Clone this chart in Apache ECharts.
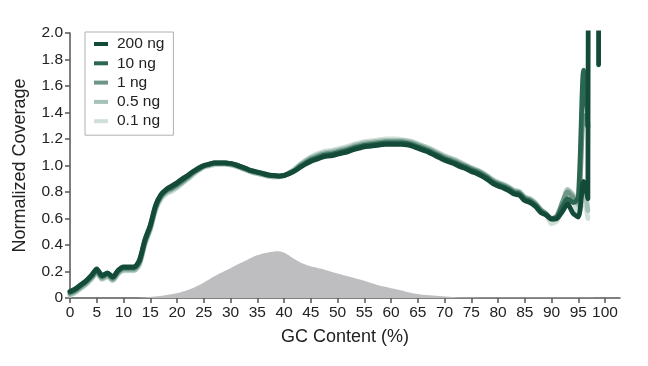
<!DOCTYPE html>
<html><head><meta charset="utf-8">
<script src="https://cdn.jsdelivr.net/npm/echarts@6/dist/echarts.min.js"></script>
<style>html,body{margin:0;padding:0;background:#fff}#c{width:648px;height:366px}</style>
</head><body><div id="c"></div>
<script>
// GC content grid (%)
const gcMain = [];
for (let i = 0; i <= 96; i++) gcMain.push(i);

const seriesNames = ['200 ng', '10 ng', '1 ng', '0.5 ng', '0.1 ng'];

const cov200 = [
  0.05,0.07,0.10,0.13,0.17,0.22,0.17,0.19,0.16,0.21,
  0.235,0.235,0.235,0.29,0.44,0.55,0.70,0.78,0.82,0.845,
  0.87,0.90,0.925,0.955,0.98,1.00,1.01,1.02,1.02,1.02,
  1.015,1.005,0.99,0.975,0.96,0.95,0.94,0.93,0.925,0.92,
  0.925,0.94,0.96,0.985,1.01,1.03,1.045,1.06,1.07,1.075,
  1.085,1.095,1.105,1.12,1.13,1.14,1.145,1.15,1.155,1.16,
  1.16,1.16,1.16,1.155,1.145,1.13,1.115,1.10,1.08,1.06,
  1.04,1.025,1.01,0.99,0.975,0.955,0.94,0.92,0.895,0.865,
  0.845,0.83,0.81,0.785,0.775,0.735,0.72,0.69,0.645,0.625,
  0.595,0.60,0.65,0.71,0.64,0.61,0.88
];
const tail200 = [[96.8, 0.75], [97.2, 8], [98.6, 8], [98.8, 1.76]];

const cov10 = [
  0.045,0.065,0.095,0.125,0.165,0.21,0.165,0.185,0.155,0.205,
  0.23,0.23,0.23,0.28,0.43,0.54,0.69,0.775,0.815,0.835,
  0.86,0.89,0.92,0.95,0.975,0.995,1.01,1.02,1.02,1.02,
  1.015,1.005,0.99,0.975,0.96,0.95,0.94,0.93,0.925,0.92,
  0.925,0.94,0.96,0.99,1.015,1.04,1.055,1.07,1.08,1.085,
  1.095,1.105,1.115,1.13,1.14,1.15,1.155,1.16,1.165,1.17,
  1.17,1.17,1.17,1.165,1.155,1.14,1.125,1.11,1.09,1.07,
  1.05,1.035,1.02,1.0,0.985,0.965,0.95,0.93,0.905,0.875,
  0.855,0.84,0.82,0.795,0.785,0.745,0.73,0.70,0.655,0.63,
  0.60,0.61,0.69,0.75,0.72,0.76,1.72
];
const tail10 = [[96.8, 1.30]];

const cov1 = [
  0.035,0.055,0.085,0.115,0.155,0.20,0.155,0.175,0.145,0.195,
  0.22,0.22,0.22,0.27,0.42,0.53,0.68,0.765,0.805,0.825,
  0.85,0.88,0.91,0.945,0.97,0.995,1.005,1.015,1.015,1.015,
  1.01,1.0,0.985,0.97,0.955,0.945,0.935,0.925,0.92,0.92,
  0.925,0.945,0.965,1.0,1.025,1.05,1.065,1.08,1.09,1.095,
  1.105,1.115,1.125,1.14,1.15,1.16,1.165,1.17,1.175,1.18,
  1.18,1.18,1.18,1.175,1.165,1.15,1.135,1.12,1.10,1.08,
  1.06,1.045,1.03,1.01,0.995,0.975,0.96,0.94,0.915,0.885,
  0.865,0.85,0.83,0.805,0.795,0.755,0.74,0.71,0.665,0.635,
  0.60,0.62,0.72,0.80,0.76,0.72,1.38
];
const tail1 = [[96.8, 1.29]];

const cov05 = [
  0.025,0.045,0.075,0.105,0.145,0.19,0.145,0.165,0.135,0.185,
  0.21,0.21,0.21,0.26,0.41,0.52,0.67,0.755,0.795,0.815,
  0.84,0.87,0.90,0.935,0.965,0.99,1.0,1.01,1.01,1.01,
  1.005,0.995,0.98,0.965,0.95,0.94,0.93,0.92,0.915,0.915,
  0.92,0.945,0.97,1.005,1.035,1.06,1.075,1.09,1.10,1.105,
  1.115,1.125,1.135,1.15,1.16,1.17,1.175,1.18,1.185,1.19,
  1.19,1.19,1.19,1.185,1.175,1.16,1.145,1.13,1.11,1.09,
  1.07,1.055,1.04,1.02,1.0,0.98,0.965,0.945,0.92,0.89,
  0.87,0.855,0.835,0.81,0.80,0.76,0.745,0.715,0.665,0.635,
  0.59,0.60,0.70,0.82,0.78,0.70,0.85
];
const tail05 = [[96.8, 0.66]];

const cov01 = [
  0.02,0.04,0.07,0.10,0.14,0.185,0.14,0.16,0.13,0.18,
  0.205,0.205,0.205,0.25,0.40,0.51,0.66,0.745,0.785,0.805,
  0.83,0.865,0.895,0.93,0.96,0.985,0.995,1.005,1.01,1.01,
  1.005,0.995,0.98,0.965,0.95,0.94,0.93,0.92,0.915,0.915,
  0.92,0.945,0.975,1.01,1.04,1.065,1.085,1.10,1.11,1.115,
  1.125,1.135,1.145,1.16,1.17,1.18,1.185,1.19,1.195,1.20,
  1.20,1.20,1.195,1.19,1.18,1.165,1.15,1.135,1.115,1.095,
  1.075,1.06,1.045,1.025,1.005,0.985,0.97,0.95,0.925,0.895,
  0.875,0.86,0.84,0.815,0.805,0.765,0.75,0.72,0.67,0.635,
  0.56,0.58,0.68,0.80,0.76,0.62,0.75
];
const tail01 = [[96.8, 0.60]];

// GC distribution of the genome (grey area)
const densityGc  = [0,10,13,16.8,19.9,22,24.2,26,28,30,31.7,33,34.8,36.5,37.9,38.8,39.8,40.8,41.7,43,44.2,46,47.9,50,52.3,55,57.3,59.5,61.6,64.1,66.5,69.1,71.5,74,80,100];
const densityVal = [0,0,0.002,0.015,0.035,0.06,0.098,0.14,0.186,0.225,0.26,0.285,0.32,0.34,0.35,0.352,0.345,0.325,0.30,0.27,0.25,0.23,0.21,0.185,0.16,0.13,0.10,0.08,0.06,0.035,0.022,0.015,0.008,0.003,0.001,0];

const xTicks = [0,5,10,15,20,25,30,35,40,45,50,55,60,65,70,75,80,85,90,95,100];

const colors = {
  '200 ng': '#134a3a',
  '10 ng': '#2b6651',
  '1 ng': '#6e9686',
  '0.5 ng': '#a6c1b6',
  '0.1 ng': '#cfe0d8'
};

function pairs(xs, ys, tail) {
  const out = ys.map((v, i) => [xs[i], v]);
  return out.concat(tail || []);
}

const FONT = 'Liberation Sans, Arial, Helvetica, sans-serif';

const lineData = {
  '200 ng': pairs(gcMain, cov200, tail200),
  '10 ng': pairs(gcMain, cov10, tail10),
  '1 ng': pairs(gcMain, cov1, tail1),
  '0.5 ng': pairs(gcMain, cov05, tail05),
  '0.1 ng': pairs(gcMain, cov01, tail01)
};

const series = [{
  name: 'GC distribution',
  type: 'line',
  data: densityGc.map((g, i) => [g, densityVal[i]]),
  smooth: 0.3,
  symbol: 'none',
  lineStyle: { width: 0 },
  areaStyle: { color: '#bebec1', opacity: 1 },
  itemStyle: { color: '#bebec1' },
  z: 1,
  silent: true
}];
seriesNames.slice().reverse().forEach((n, k) => {
  series.push({
    name: n,
    type: 'line',
    data: lineData[n],
    smooth: 0.25,
    symbol: 'none',
    clip: true,
    lineStyle: { width: 4.8, color: colors[n], cap: 'round', join: 'round' },
    itemStyle: { color: colors[n] },
    z: 2 + k
  });
});

const chart = echarts.init(document.getElementById('c'), null, { renderer: 'canvas' });
chart.setOption({
  animation: false,
  backgroundColor: '#fff',
  textStyle: { fontFamily: FONT },
  grid: { left: 70, right: 28, top: 33, bottom: 68, containLabel: false },
  legend: {
    data: seriesNames,
    orient: 'vertical',
    left: 85, top: 32,
    padding: [4, 9, 6, 9],
    itemGap: 3.3,
    itemWidth: 14, itemHeight: 4,
    icon: 'rect',
    backgroundColor: '#fff',
    borderColor: '#b0b0b0', borderWidth: 1,
    textStyle: { fontSize: 15.5, color: '#222', fontFamily: FONT, padding: [0, 0, 0, 4] }
  },
  xAxis: {
    type: 'value',
    min: 0, max: 102.8,
    name: 'GC Content (%)',
    nameLocation: 'middle',
    nameGap: 30,
    nameTextStyle: { fontSize: 18, color: '#222', fontFamily: FONT },
    axisLine: { show: true, onZero: false, lineStyle: { color: '#555', width: 1.5 } },
    axisTick: { show: true, length: 5, lineStyle: { color: '#555', width: 1.5 }, customValues: xTicks },
    axisLabel: { fontSize: 15.5, color: '#222', margin: 7, fontFamily: FONT, customValues: xTicks },
    splitLine: { show: false }
  },
  yAxis: {
    type: 'value',
    min: 0, max: 2, interval: 0.2,
    name: 'Normalized Coverage',
    nameLocation: 'middle',
    nameGap: 41,
    nameTextStyle: { fontSize: 18, color: '#222', fontFamily: FONT },
    axisLine: { show: true, lineStyle: { color: '#555', width: 1.5 } },
    axisTick: { show: true, length: 5, lineStyle: { color: '#555', width: 1.5 } },
    axisLabel: { fontSize: 15.5, color: '#222', margin: 7, fontFamily: FONT,
      formatter: v => (v === 0 ? '0' : v.toFixed(1)) },
    splitLine: { show: false }
  },
  series: series
});
</script>
</body></html>
